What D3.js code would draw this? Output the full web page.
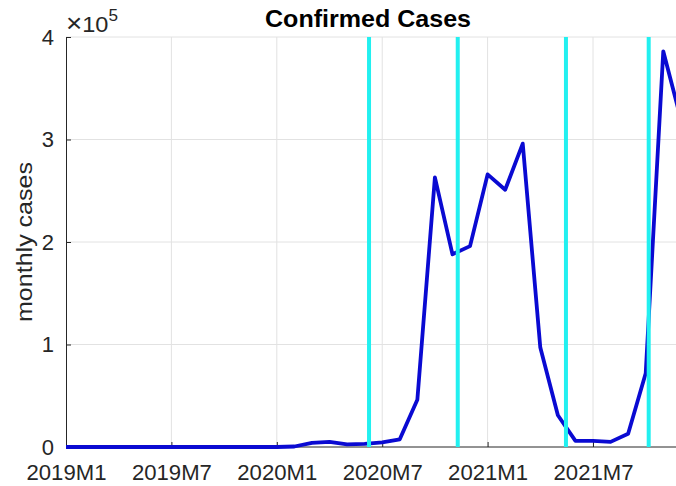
<!DOCTYPE html>
<html><head><meta charset="utf-8">
<script src="https://cdn.jsdelivr.net/npm/d3@7"></script>
<style>body{margin:0;background:#fff}svg{display:block;font-family:Arial,"Liberation Sans",sans-serif}</style>
</head><body><div id="chart"></div>
<script>
const months = ["2019M1","2019M2","2019M3","2019M4","2019M5","2019M6","2019M7","2019M8","2019M9","2019M10","2019M11","2019M12",
"2020M1","2020M2","2020M3","2020M4","2020M5","2020M6","2020M7","2020M8","2020M9","2020M10","2020M11","2020M12",
"2021M1","2021M2","2021M3","2021M4","2021M5","2021M6","2021M7","2021M8","2021M9","2021M10","2021M11","2021M12"];
const cases = [0,0,0,0,0,0,0,0,0,0,0,0,0,500,4000,5000,2500,3000,4500,7500,46000,263000,188000,196000,266000,251000,296000,97000,31000,6000,6000,5000,13000,72000,386000,320000];
const xTickIdx = [0,6,12,18,24,30];
const xTickLabels = ["2019M1","2019M7","2020M1","2020M7","2021M1","2021M7"];
const yTicks = [0,100000,200000,300000,400000];
const yTickLabels = ["0","1","2","3","4"];
const markers = [17.25,22.30,28.46,33.17];
const title = "Confirmed Cases";
const yLabel = "monthly cases";

const W=676,H=486;
const svg=d3.select("#chart").append("svg").attr("width",W).attr("height",H);
const x=d3.scaleLinear().domain([0,35]).range([66,66+35*17.567]);
const y=d3.scaleLinear().domain([0,400000]).range([447,37]);
const axisCol="#262626", gridCol="#e2e2e2";

// grid
svg.append("g").selectAll("line.gx").data(xTickIdx.slice(1)).join("line")
 .attr("x1",d=>x(d)).attr("x2",d=>x(d)).attr("y1",y(0)).attr("y2",y(400000))
 .attr("stroke",gridCol).attr("stroke-width",1);
svg.append("g").selectAll("line.gy").data(yTicks.slice(1)).join("line")
 .attr("x1",x(0)).attr("x2",W).attr("y1",d=>y(d)).attr("y2",d=>y(d))
 .attr("stroke",gridCol).attr("stroke-width",1);

// axes
const xa=svg.append("g").attr("transform",`translate(0,${y(0)})`)
 .call(d3.axisBottom(x).tickValues(xTickIdx).tickFormat((d,i)=>xTickLabels[i]).tickSizeInner(-5).tickSizeOuter(0).tickPadding(12));
xa.select(".domain").attr("stroke",axisCol).attr("d",`M${x(0)},0H${W}`);
xa.selectAll(".tick line").attr("stroke",axisCol);
xa.selectAll("text").attr("fill",axisCol).attr("font-size",22).attr("font-family","Arial,'Liberation Sans',sans-serif")
 .attr("dy","0.95em").attr("textLength",80).attr("lengthAdjust","spacingAndGlyphs");

const ya=svg.append("g").attr("transform",`translate(${x(0)},0)`)
 .call(d3.axisLeft(y).tickValues(yTicks).tickFormat((d,i)=>yTickLabels[i]).tickSizeInner(-5).tickSizeOuter(0).tickPadding(12));
ya.select(".domain").attr("stroke",axisCol);
ya.selectAll(".tick line").attr("stroke",axisCol);
ya.selectAll("text").attr("fill",axisCol).attr("font-size",22).attr("font-family","Arial,'Liberation Sans',sans-serif");

// series line
const line=d3.line().x((d,i)=>x(i)).y(d=>y(d));
svg.append("path").datum(cases).attr("d",line).attr("fill","none")
 .attr("stroke","#0a0ad2").attr("stroke-width",3.8).attr("stroke-linejoin","round");

// cyan markers
svg.append("g").selectAll("line").data(markers).join("line")
 .attr("x1",d=>x(d)).attr("x2",d=>x(d)).attr("y1",y(0)).attr("y2",y(400000))
 .attr("stroke","#22f0f0").attr("stroke-width",4);

// title
svg.append("text").attr("x",368).attr("y",27).attr("text-anchor","middle")
 .attr("font-size",24).attr("font-weight","bold").attr("fill","#000")
 .attr("textLength",206).attr("lengthAdjust","spacingAndGlyphs").text(title);

// y label
svg.append("text").attr("transform","translate(32,242) rotate(-90)").attr("text-anchor","middle")
 .attr("font-size",22).attr("fill",axisCol).attr("textLength",160).attr("lengthAdjust","spacingAndGlyphs").text(yLabel);

// exponent
const ex=svg.append("text").attr("x",66).attr("y",32).attr("fill",axisCol).attr("font-size",22)
 .attr("textLength",52).attr("lengthAdjust","spacingAndGlyphs");
ex.append("tspan").attr("font-size",26).attr("font-weight","300").text("\u00d7");
ex.append("tspan").attr("font-size",22).text("10");
ex.append("tspan").attr("font-size",16).attr("dy",-11).text("5");
</script></body></html>
